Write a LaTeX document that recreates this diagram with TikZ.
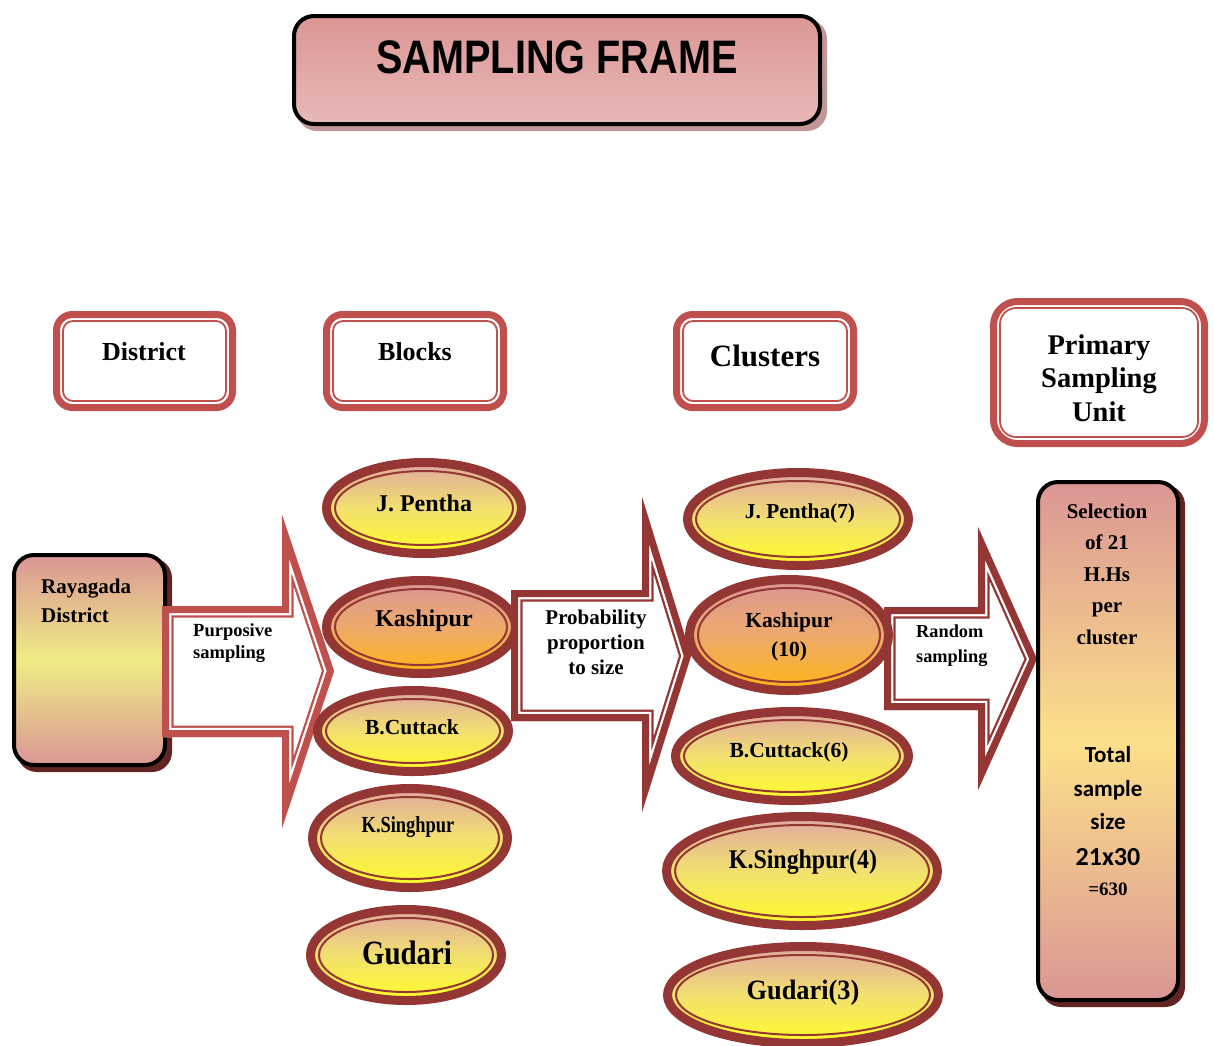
\documentclass[tikz,border=0pt]{standalone}
\usepackage{graphicx}
\usepackage{fontspec}
\setmainfont{Liberation Serif}
\newfontfamily\sansT{Liberation Sans}
\newfontfamily\calib{Carlito}
\usetikzlibrary{shapes.geometric}
\definecolor{redA}{HTML}{C0504D}
\definecolor{dred}{HTML}{943634}
\definecolor{pinkT}{HTML}{DA9694}
\definecolor{pinkE}{HTML}{E0A8A0}
\definecolor{yelE}{HTML}{FFFC28}
\definecolor{yelM}{HTML}{F2E070}
\definecolor{orgE}{HTML}{FDB515}
\definecolor{orgM}{HTML}{EDAA6C}
\definecolor{yelR}{HTML}{F0EC86}
\definecolor{yelP}{HTML}{FDE08A}
\definecolor{titB}{HTML}{E8B9B8}
\definecolor{shadT}{HTML}{C29696}
\definecolor{shadD}{HTML}{632523}
\newcommand\fs[2]{\fontsize{#1}{#2}\selectfont}
\tikzset{
 lbl/.style={inner sep=0pt, text=black, align=center},
 hdr/.style={draw=redA, line width=7pt, rounded corners=16pt, fill=white, inner sep=0pt},
 hdrin/.style={draw=redA, line width=1.8pt, rounded corners=10pt, inner sep=0pt},
 ell/.style={ellipse, inner sep=0pt, draw=dred, line width=9pt, top color=pinkE, bottom color=yelE, middle color=yelM},
 ellor/.style={ellipse, inner sep=0pt, draw=dred, line width=9pt, top color=pinkT, bottom color=orgE, middle color=orgM},
 ellin/.style={ellipse, inner sep=0pt, draw=dred, line width=2pt},
 blk/.style={draw=black, line width=4pt, rounded corners=20pt, inner sep=0pt},
}
\newcommand\hdrbox[5]{%
 \node[hdr, minimum width={#4-7}, minimum height={#5-7}] (#1) at (#2,#3) {};
 \node[hdrin, minimum width={#4-20}, minimum height={#5-20}] (#1in) at (#2,#3) {};}
\newcommand\ovalnode[6]{%
 \node[#6, minimum width={2*#4-9}, minimum height={2*#5-9}] (#1) at (#2,#3) {};
 \node[ellin, minimum width={2*#4-26}, minimum height={2*#5-26}] (#1in) at (#2,#3) {};}
\newcommand\bandarrow[2]{%
 \begin{scope}
 \clip #2;
 \fill[white] #2;
 \draw[#1, line width=23pt, line join=miter] #2;
 \draw[white, line width=18.5pt, line join=miter] #2;
 \draw[#1, line width=14pt, line join=miter] #2;
 \end{scope}}
\begin{document}
\begin{tikzpicture}[x=1pt,y=-1pt]
\useasboundingbox (0,0) rectangle (1214,1045);
\fill[white] (0,0) rectangle (1214,1045);
% title
\fill[shadT, rounded corners=20pt] (297,19) rectangle (827,131);
\node[blk, top color=pinkT, bottom color=titB, minimum width=526, minimum height=108] (title) at (557,70) {};
\node[lbl] (tTitle) at (557,57) {\scalebox{0.843}[1]{\sansT\bfseries\fs{47}{50}SAMPLING FRAME}};
% header boxes
\hdrbox{hDistrict}{144.5}{361}{183}{100}
\hdrbox{hBlocks}{415}{361}{184}{100}
\hdrbox{hClusters}{765}{361}{184}{100}
\node[hdr, rounded corners=24pt, minimum width=211, minimum height=142] (hPSU) at (1099,372.5) {};
\node[hdrin, rounded corners=16pt, minimum width=198, minimum height=129] (hPSUin) at (1099,372.5) {};
\node[lbl, font={\bfseries\fs{26}{30}}] (tDistrict) at (144,352) {District};
\node[lbl, font={\bfseries\fs{26}{30}}] (tBlocks) at (415,352) {Blocks};
\node[lbl, font={\bfseries\fs{31}{34}}] (tClusters) at (765,356) {Clusters};
\node[lbl, font={\bfseries\fs{28.5}{33.5}}] (tPSU) at (1099,378) {Primary\\Sampling\\Unit};
% Rayagada
\fill[shadD, rounded corners=20pt] (17,558) rectangle (172,772);
\node[blk, top color=pinkT, bottom color=pinkT, middle color=yelR, minimum width=151, minimum height=210] (ray) at (89.5,660) {};
\node[lbl, align=left, anchor=west, font={\bfseries\fs{21}{29}}] (tRay) at (41,601) {Rayagada\\District};
% arrow 1
\bandarrow{redA}{(162,606) -- (282,606) -- (282,515) -- (334,671) -- (282,828) -- (282,737) -- (162,737) -- cycle}
\node[lbl, align=left, anchor=west, font={\bfseries\fs{18.5}{22}}] (tPurp) at (193,643) {Purposive\\sampling};
% block ellipses
\ovalnode{bJP}{424}{508}{102}{50}{ell}
\ovalnode{bKa}{421}{627}{99}{51}{ellor}
\ovalnode{bBC}{413}{731}{100}{45}{ell}
\ovalnode{bKS}{410}{838}{102}{54}{ell}
\ovalnode{bGu}{406}{955}{100}{50}{ell}
\node[lbl, font={\bfseries\fs{24}{28}}] (tbJP) at (424,503) {J. Pentha};
\node[lbl, font={\bfseries\fs{24}{28}}] (tbKa) at (424,621) {Kashipur};
\node[lbl, font={\bfseries\fs{21.5}{25}}] (tbBC) at (412,727) {B.Cuttack};
\node[lbl, font={\bfseries\fs{23}{26}}] (tbKS) at (408,827) {\scalebox{0.8}[1]{K.Singhpur}};
\node[lbl, font={\bfseries\fs{34}{36}}] (tbGu) at (407,953) {\scalebox{0.85}[1]{Gudari}};
% arrow 2
\bandarrow{dred}{(511,590) -- (642,590) -- (642,497) -- (691,656) -- (642,812) -- (642,721) -- (511,721) -- cycle}
\node[lbl, font={\bfseries\fs{21}{25}}] (tProb) at (596,642) {Probability\\proportion\\to size};
% arrow 3
\bandarrow{dred}{(884,607) -- (978,607) -- (978,527) -- (1037,659) -- (978,790) -- (978,710) -- (884,710) -- cycle}
\node[lbl, align=left, anchor=west, font={\bfseries\fs{18.3}{25}}] (tRand) at (916,646) {Random\\sampling};
% cluster ellipses
\ovalnode{cJP}{798}{519}{115}{51}{ell}
\ovalnode{cKa}{789}{635}{104}{60}{ellor}
\ovalnode{cBC}{792}{756}{121}{49}{ell}
\ovalnode{cKS}{802}{871}{140}{59}{ell}
\ovalnode{cGu}{803}{995}{140}{53}{ell}
\node[lbl, font={\bfseries\fs{21.3}{25}}] (tcJP) at (800,513) {J. Pentha(7)};
\node[lbl, font={\bfseries\fs{21.5}{29}}] (tcKa) at (789,637) {Kashipur\\(10)};
\node[lbl, font={\bfseries\fs{21.5}{25}}] (tcBC) at (789,752) {B.Cuttack(6)};
\node[lbl, font={\bfseries\fs{27}{30}}] (tcKS) at (803,862) {\scalebox{0.885}[1]{K.Singhpur(4)}};
\node[lbl, font={\bfseries\fs{28}{30}}] (tcGu) at (803,993) {\scalebox{0.94}[1]{Gudari(3)}};
% right box
\fill[shadD, rounded corners=20pt] (1041,485) rectangle (1185,1007);
\node[blk, top color=pinkT, bottom color=pinkT, middle color=yelP, minimum width=140, minimum height=518] (psu) at (1108,741) {};
\node[lbl, font={\bfseries\fs{21}{31.5}}] (tSel) at (1107,574) {Selection\\of 21\\H.Hs\\per\\cluster};
\node[lbl, font={\calib\bfseries\fs{23}{33.5}}] (tTot) at (1108,788) {Total\\sample\\size};
\node[lbl, font={\calib\bfseries\fs{26}{28}}] (tNum) at (1108,857) {21x30};
\node[lbl, font={\bfseries\fs{19}{22}}] (tEq) at (1108,889) {=630};
\end{tikzpicture}
\end{document}
